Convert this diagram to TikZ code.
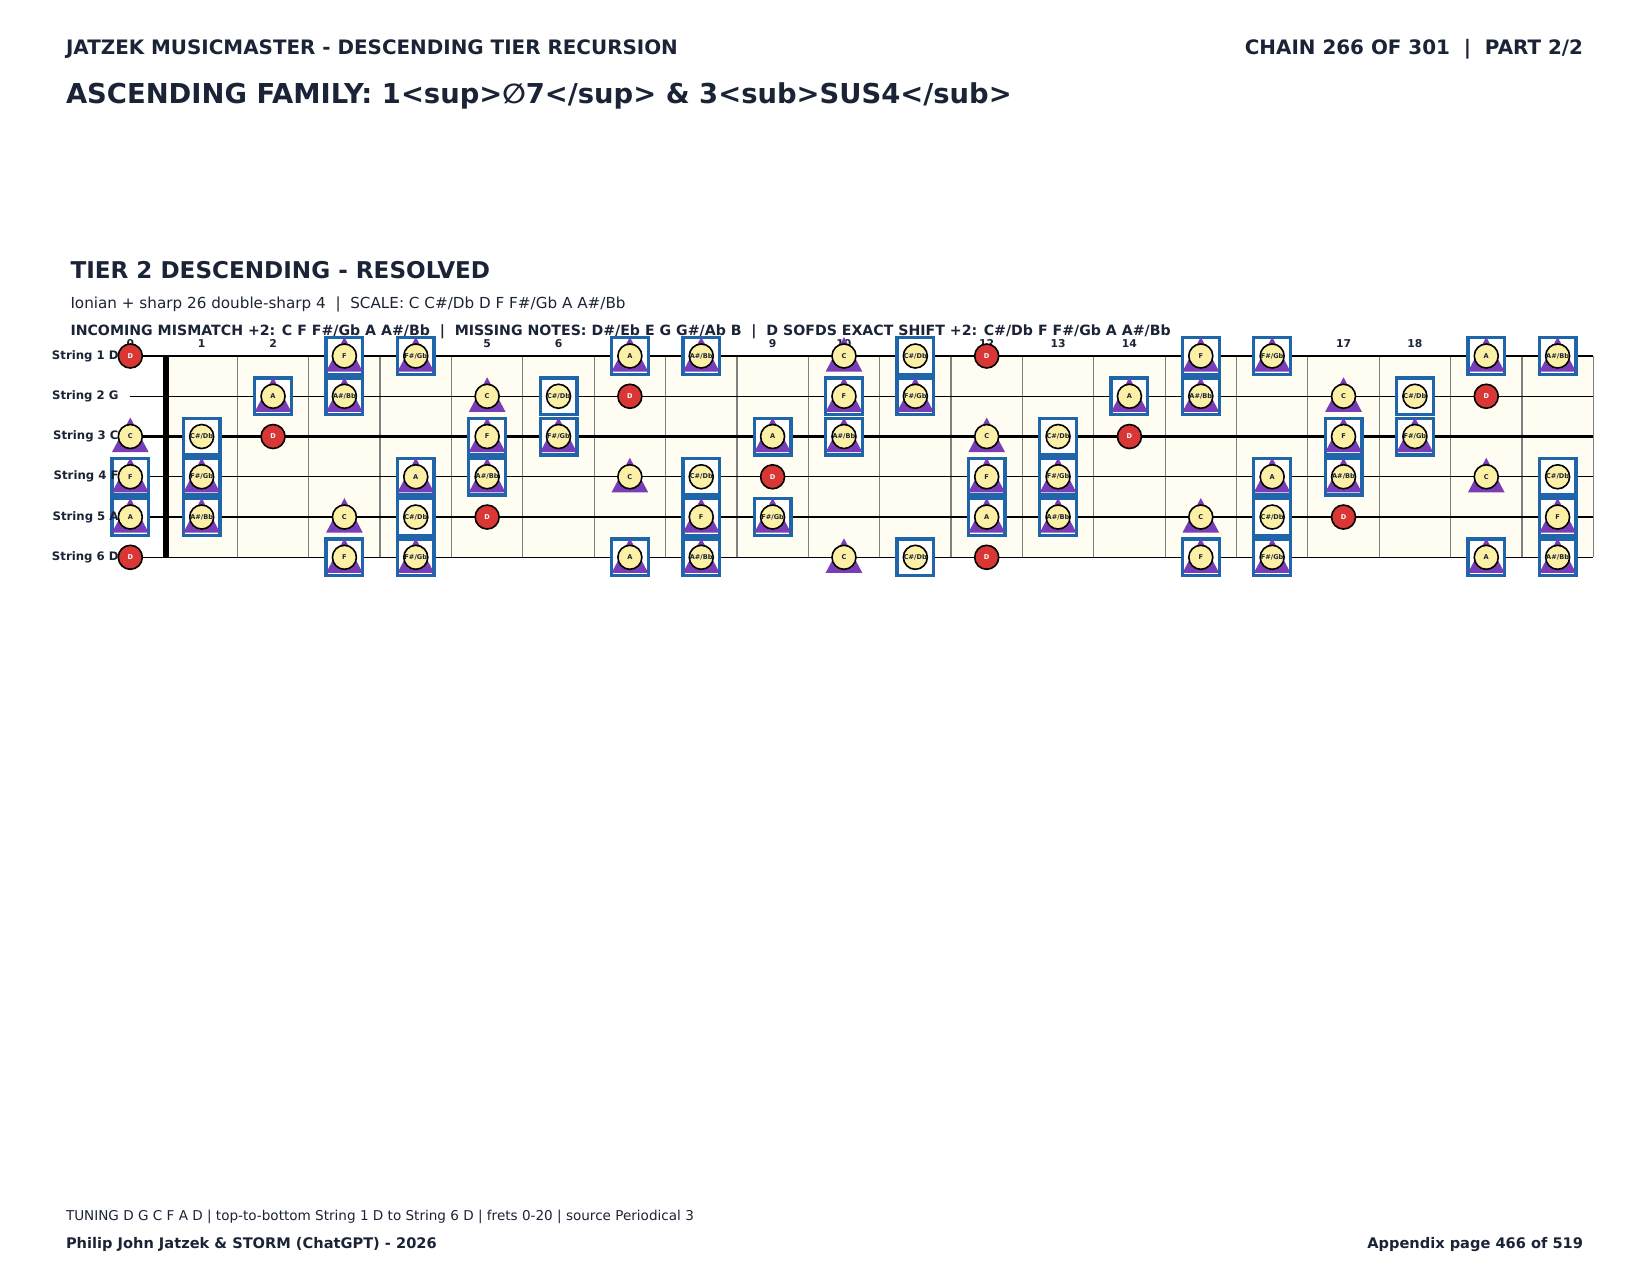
\documentclass[tikz,border=0pt]{standalone}
\usepackage{fontspec}
\setmainfont{DejaVu Sans}
\definecolor{ink}{HTML}{1B2436}
\definecolor{cream}{HTML}{FFFDF2}
\definecolor{noteyellow}{HTML}{FCEFA6}
\definecolor{notered}{HTML}{D93636}
\definecolor{tripurple}{HTML}{7A3DB8}
\definecolor{boxblue}{HTML}{1F65AA}
\definecolor{fretgrey}{HTML}{808080}
\tikzset{
  txt/.style={inner sep=0pt, outer sep=0pt, text=ink},
  hdr/.style={txt, font=\fontsize{19.9}{24}\selectfont\bfseries},
  ttl/.style={txt, font=\fontsize{27.4}{32}\selectfont\bfseries},
  tier/.style={txt, font=\fontsize{23.1}{27}\selectfont\bfseries},
  info/.style={txt, font=\fontsize{15.2}{18}\selectfont},
  infob/.style={txt, font=\fontsize{14.15}{17}\selectfont\bfseries},
  foot/.style={txt, font=\fontsize{13.56}{16}\selectfont},
  footb/.style={txt, font=\fontsize{14.6}{17}\selectfont\bfseries},
  fretnum/.style={txt, font=\fontsize{10.8}{12}\selectfont\bfseries},
  strlab/.style={txt, font=\fontsize{11.7}{13}\selectfont\bfseries, anchor=east},
  fretline/.style={draw=fretgrey, line width=1.2pt},
  thinstring/.style={draw=black, line width=1.3pt},
  thickstring/.style={draw=black, line width=2.6pt},
  nutline/.style={draw=black, line width=5.5pt},
  boxmark/.style={rectangle, minimum size=36.7pt, inner sep=0pt, line width=3.3pt, draw=boxblue, fill=white},
  trimark/.style={fill=tripurple},
  notedot/.style={circle, minimum size=24pt, inner sep=0pt, line width=1.6pt, draw=black, fill=noteyellow, text=ink, font=\fontsize{6.6}{7}\selectfont\bfseries},
  rootdot/.style={notedot, fill=notered, text=white},
}
\def\fw{71.365}
\def\sgap{40.26}
\begin{document}
\begin{tikzpicture}[x=1pt,y=-1pt]
\useasboundingbox[fill=white] (0,0) rectangle (1650,1275);

% headings
\node[hdr, anchor=base west] (hdr) at (66,54.7) {JATZEK MUSICMASTER - DESCENDING TIER RECURSION};
\node[hdr, anchor=base east] (chain) at (1583,54.7) {CHAIN 266 OF 301\ \ |\ \ PART 2/2};
\node[ttl, anchor=base west] (title) at (66,103.5) {ASCENDING FAMILY: 1<sup>∅7</sup> \& 3<sub>SUS4</sub>};
\node[tier, anchor=base west] (tier) at (70.5,278.5) {TIER 2 DESCENDING - RESOLVED};
\node[info, anchor=base west] (scale) at (70.5,308.3) {Ionian + sharp 26 double-sharp 4\ \ |\ \ SCALE: C C\#/Db D F F\#/Gb A A\#/Bb};
\node[infob, anchor=base west] (mismatch) at (70.5,335.5) {INCOMING MISMATCH +2: C F F\#/Gb A A\#/Bb\ \ |\ \ MISSING NOTES: D\#/Eb E G G\#/Ab B\ \ |\ \ D SOFDS EXACT SHIFT +2: C\#/Db F F\#/Gb A A\#/Bb};

% fretboard
\fill[cream] (166,356) rectangle (1593.3,557.3);
\foreach \k in {1,...,20}{
  \draw[fretline] ({166+\k*\fw},356) -- ({166+\k*\fw},557.3);
}
\foreach \s in {1,2,4,6}{
  \draw[thinstring] (130.3,{356+(\s-1)*\sgap}) -- (1593.3,{356+(\s-1)*\sgap});
}
\foreach \s in {3,5}{
  \draw[thickstring] (130.3,{356+(\s-1)*\sgap}) -- (1593.3,{356+(\s-1)*\sgap});
}
\draw[nutline] (166,356) -- (166,557.3);

% fret numbers
\foreach \f in {0,...,20}{
  \node[fretnum] (fn-\f) at ({166+(\f-0.5)*\fw},343.3) {\f};
}

% boxes
\foreach \s/\p in {1/2,2/7,3/0,4/5,5/9,6/2}{
  \foreach \f in {0,...,20}{
    \pgfmathtruncatemacro\n{mod(\p+\f,12)}
    \pgfmathtruncatemacro\hasbx{(\n==1)||(\n==5)||(\n==6)||(\n==9)||(\n==10)}
    \pgfmathsetmacro\xx{166+(\f-0.5)*\fw}
    \pgfmathsetmacro\yy{356+(\s-1)*\sgap}
    \ifnum\hasbx=1
      \node[boxmark] (bx-\s-\f) at (\xx,\yy) {};
    \fi
  }
}
% string labels
\foreach \s/\nm in {1/D,2/G,3/C,4/F,5/A,6/D}{
  \node[strlab] (sl-\s) at (118.5,{356+(\s-1)*\sgap}) {String \s\ \nm};
}
% triangles
\foreach \s/\p in {1/2,2/7,3/0,4/5,5/9,6/2}{
  \foreach \f in {0,...,20}{
    \pgfmathtruncatemacro\n{mod(\p+\f,12)}
    \pgfmathtruncatemacro\hastr{(\n==0)||(\n==5)||(\n==6)||(\n==9)||(\n==10)}
    \pgfmathsetmacro\xx{166+(\f-0.5)*\fw}
    \pgfmathsetmacro\yy{356+(\s-1)*\sgap}
    \ifnum\hastr=1
      \fill[trimark] (\xx-18.3,\yy+15.5) -- (\xx+18.3,\yy+15.5) -- (\xx,\yy-19) -- cycle;
    \fi
  }
}
% note circles
\foreach \s/\p in {1/2,2/7,3/0,4/5,5/9,6/2}{
  \foreach \f in {0,...,20}{
    \pgfmathtruncatemacro\n{mod(\p+\f,12)}
    \pgfmathtruncatemacro\insc{(\n==0)||(\n==1)||(\n==5)||(\n==6)||(\n==9)||(\n==10)}
    \pgfmathsetmacro\xx{166+(\f-0.5)*\fw}
    \pgfmathsetmacro\yy{356+(\s-1)*\sgap}
    \ifnum\n=2
      \node[rootdot] (nt-\s-\f) at (\xx,\yy) {D};
    \fi
    \ifnum\insc=1
      \node[notedot] (nt-\s-\f) at (\xx,\yy) {\ifcase\n C\or C\#/Db\or\or\or\or F\or F\#/Gb\or\or\or A\or A\#/Bb\or\fi};
    \fi
  }
}

% footer
\node[foot, anchor=base west] (tuning) at (66,1220.7) {TUNING D G C F A D | top-to-bottom String 1 D to String 6 D | frets 0-20 | source Periodical 3};
\node[footb, anchor=base west] (credit) at (66,1248) {Philip John Jatzek \& STORM (ChatGPT) - 2026};
\node[footb, anchor=base east] (page) at (1583,1248) {Appendix page 466 of 519};
\end{tikzpicture}
\end{document}
